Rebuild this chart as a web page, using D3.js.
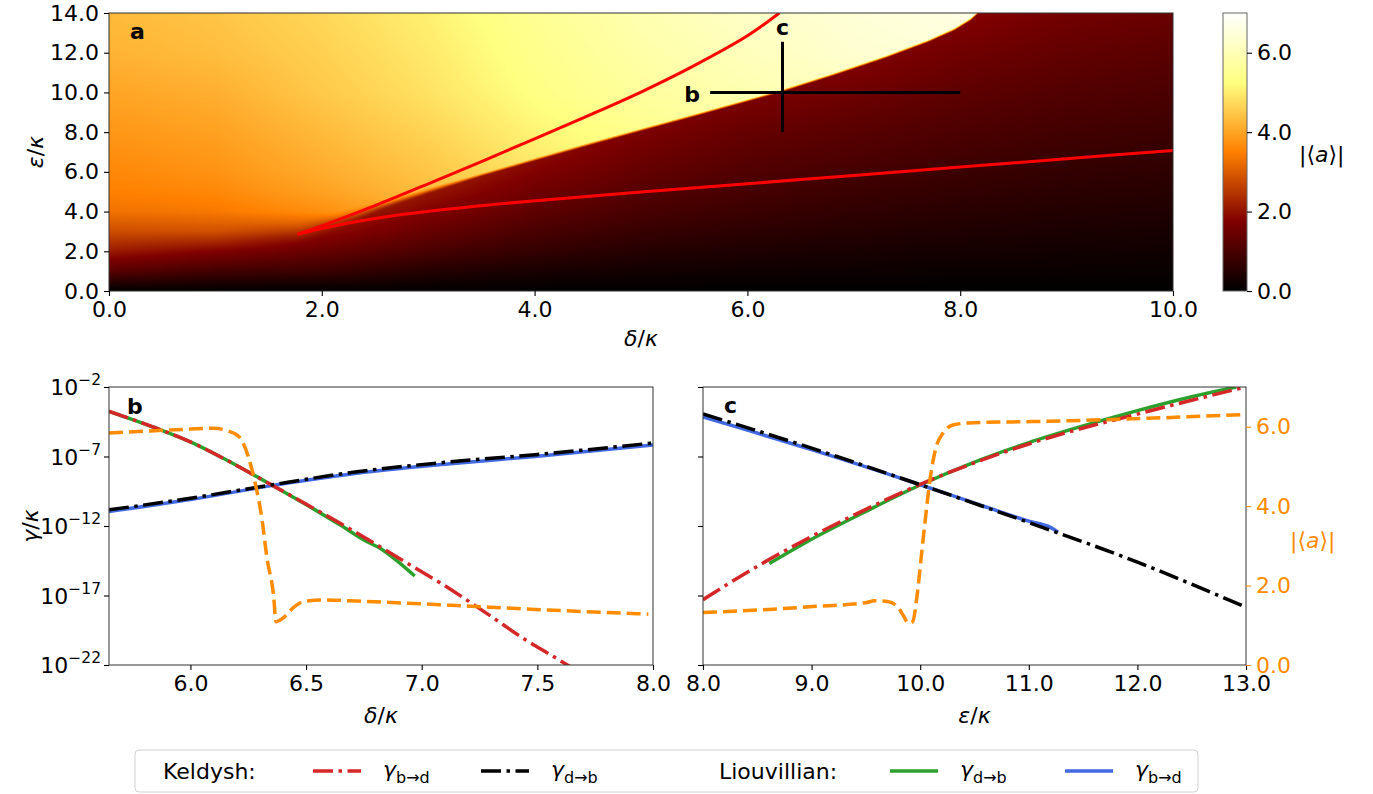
<!DOCTYPE html>
<html><head><meta charset="utf-8">
<script src="https://cdn.jsdelivr.net/npm/d3@7"></script>
<style>
body{margin:0;background:#fff}
svg{display:block}
text{font-family:"DejaVu Sans",sans-serif}
</style>
</head><body>
<svg id="chart" width="1373" height="794"></svg>
<script>
// ---------------- DATA ----------------
// heat map grid (delta columns, epsilon rows); |<a>|
const heatDelta = [0,1,2,3,4,5,6,7,8,9,10];
const heatEps   = [0,1,2,3,4,5,6,7,8,9,10,11,12,13,14];
// bright (upper) branch
const upperBranch = [
 [0,   0,    0,    3.6, 4.1, 4.5, 4.9, 5.1, 5.3, 5.5, 5.7],
 [1.2, 0.9,  0.75, 3.7, 4.2, 4.6, 5.0, 5.2, 5.4, 5.6, 5.8],
 [2.1, 1.75, 1.4,  3.8, 4.3, 4.7, 5.1, 5.3, 5.5, 5.7, 5.9],
 [2.8, 2.85, 2.7,  3.95,4.45,4.85,5.2, 5.4, 5.6, 5.8, 6.0],
 [3.3, 3.4,  3.7,  4.15,4.6, 5.0, 5.35,5.5, 5.7, 5.9, 6.1],
 [3.5, 3.6,  3.95, 4.35,4.8, 5.15,5.5, 5.6, 5.8, 6.0, 6.2],
 [3.6, 3.75, 4.1,  4.45,4.9, 5.25,5.6, 5.7, 5.9, 6.1, 6.3],
 [3.7, 3.85, 4.2,  4.55,5.0, 5.35,5.68,5.8, 6.0, 6.2, 6.4],
 [3.8, 3.95, 4.3,  4.65,5.1, 5.45,5.76,5.9, 6.1, 6.3, 6.5],
 [3.9, 4.05, 4.4,  4.75,5.2, 5.55,5.84,6.0, 6.2, 6.4, 6.6],
 [4.0, 4.15, 4.5,  4.85,5.3, 5.65,5.92,6.15,6.35,6.5, 6.65],
 [4.1, 4.25, 4.55, 4.9, 5.35,5.72,6.0, 6.25,6.45,6.6, 6.75],
 [4.2, 4.35, 4.6,  4.95,5.4, 5.78,6.08,6.35,6.5, 6.65,6.8],
 [4.25,4.4,  4.65, 5.0, 5.45,5.85,6.15,6.4, 6.55,6.7, 6.85],
 [4.3, 4.45, 4.7,  5.05,5.5, 5.9, 6.22,6.45,6.6, 6.75,6.9]
];
// dark (lower) branch
const lowerBranch = [
 [0,   0,    0,    0,    0,    0,    0,    0,    0,    0,    0],
 [1.2, 0.9,  0.8,  0.5,  0.33, 0.25, 0.2,  0.17, 0.14, 0.12, 0.11],
 [2.1, 1.75, 1.4,  1.0,  0.7,  0.5,  0.4,  0.33, 0.28, 0.24, 0.21],
 [2.8, 2.85, 1.95, 1.4,  1.0,  0.75, 0.6,  0.5,  0.42, 0.36, 0.32],
 [3.3, 3.4,  2.3,  1.75, 1.28, 0.98, 0.8,  0.65, 0.55, 0.47, 0.42],
 [3.5, 3.6,  2.6,  2.05, 1.52, 1.17, 0.96, 0.8,  0.68, 0.58, 0.52],
 [3.6, 3.75, 2.85, 2.3,  1.75, 1.36, 1.1,  0.95, 0.8,  0.69, 0.62],
 [3.7, 3.85, 3.0,  2.5,  1.95, 1.53, 1.24, 1.08, 0.92, 0.8,  0.72],
 [3.8, 3.95, 3.15, 2.7,  2.1,  1.7,  1.38, 1.2,  1.04, 0.9,  0.82],
 [3.9, 4.05, 3.3,  2.85, 2.25, 1.85, 1.56, 1.35, 1.16, 1.01, 0.92],
 [4.0, 4.15, 3.45, 3.0,  2.4,  2.0,  1.72, 1.52, 1.28, 1.12, 1.02],
 [4.1, 4.25, 3.6,  3.1,  2.5,  2.1,  1.85, 1.68, 1.4,  1.23, 1.12],
 [4.2, 4.35, 3.7,  3.2,  2.6,  2.2,  1.95, 1.82, 1.53, 1.34, 1.22],
 [4.25,4.4,  3.8,  3.3,  2.7,  2.3,  2.05, 1.95, 1.68, 1.45, 1.33],
 [4.3, 4.45, 3.9,  3.4,  2.8,  2.4,  2.15, 2.05, 1.85, 1.57, 1.44]
];
// switching edge between the two branches
const switchDelta = [1.77, 2.0, 2.5, 3.0, 3.5, 4.0, 4.5, 5.0, 5.5, 6.0, 6.3, 6.8, 7.3, 7.7, 7.95, 8.1, 8.2];
const switchEps   = [2.85, 3.28, 4.2, 5.05, 5.85, 6.62, 7.38, 8.12, 8.85, 9.6, 10.05, 10.9, 11.8, 12.6, 13.2, 13.7, 14.2];
// red bistability bounds
const redUpperDelta = [1.77, 2.0, 2.5, 3.0, 3.5, 4.0, 4.5, 5.0, 5.5, 6.0, 6.3];
const redUpperEps   = [2.85, 3.28, 4.3, 5.4, 6.52, 7.66, 8.82, 10.02, 11.35, 12.85, 14.0];
const redLowerDelta = [1.77, 2.0, 2.33, 2.75, 3.17, 3.6, 4.01, 5.0, 6.0, 7.0, 8.0, 9.0, 10.0];
const redLowerEps   = [2.85, 3.15, 3.5, 3.85, 4.12, 4.35, 4.55, 4.98, 5.4, 5.82, 6.24, 6.66, 7.08];
// cuts
const cutBDelta = [5.65, 8.0], cutBEps = [10, 10];
const cutCDelta = [6.33, 6.33], cutCEps = [8, 12.55];
const topXTicks = [0,2,4,6,8,10];
const topYTicks = [0,2,4,6,8,10,12,14];
const cbarTicks = [0,2,4,6];
const cbarMax = 7;

// panel b (x = delta / kappa), rates given as log10(gamma/kappa)
const bKelBDDelta = [5.648,5.85,6.0,6.15,6.33,6.53,6.72,6.9,7.1,7.3,7.45,7.55,7.65];
const bKelBDLog   = [-3.75,-4.95,-5.95,-7.2,-8.85,-10.7,-12.5,-14.3,-16.3,-18.5,-20.2,-21.2,-22.2];
const bKelDBDelta = [5.648,6.0,6.33,6.72,7.1,7.49,8.0];
const bKelDBLog   = [-10.84,-10.0,-9.1,-8.1,-7.42,-6.87,-6.03];
const bLioDBDelta = [5.648,5.85,6.0,6.15,6.33,6.53,6.65,6.76,6.82,6.9,6.97];
const bLioDBLog   = [-3.75,-4.95,-5.95,-7.2,-8.85,-10.75,-11.95,-13.1,-13.6,-14.6,-15.6];
const bLioBDDelta = [5.648,6.0,6.33,6.72,7.1,7.49,8.0];
const bLioBDLog   = [-10.95,-10.1,-9.15,-8.2,-7.55,-7.0,-6.18];
const bAmpDelta = [5.648,5.85,6.0,6.1,6.16,6.21,6.25,6.28,6.31,6.33,6.36,6.37,6.40,6.45,6.49,6.57,6.72,7.11,7.49,7.98];
const bAmp      = [5.84,5.9,5.94,5.96,5.9,5.75,5.25,4.58,3.65,2.73,1.72,1.09,1.18,1.47,1.6,1.64,1.61,1.51,1.4,1.28];
const bXTicks = [6.0,6.5,7.0,7.5,8.0];
const logTicks = [-22,-17,-12,-7,-2];

// panel c (x = epsilon / kappa)
const cKelBDEps = [8.0,8.5,9.0,9.5,10.0,10.5,11.0,11.5,12.0,12.5,13.0];
const cKelBDLog = [-17.3,-14.9,-12.75,-10.8,-9.0,-7.45,-6.1,-4.95,-3.95,-2.95,-2.0];
const cKelDBEps = [8.0,9.0,10.0,11.0,12.0,13.0];
const cKelDBLog = [-3.94,-6.4,-9.03,-11.75,-14.6,-17.85];
const cLioDBEps = [8.61,9.0,9.5,10.0,10.5,11.0,11.5,12.0,12.5,12.91];
const cLioDBLog = [-14.7,-12.95,-10.95,-9.05,-7.4,-6.0,-4.8,-3.7,-2.7,-2.0];
const cLioBDEps = [8.0,9.0,10.0,10.5,11.0,11.2,11.27];
const cLioBDLog = [-4.16,-6.51,-9.03,-10.35,-11.65,-12.1,-12.45];
const cAmpEps = [8.0,8.61,9.01,9.5,9.58,9.7,9.79,9.85,9.89,9.93,9.97,10.01,10.05,10.09,10.14,10.21,10.31,10.48,11.04,11.86,13.0];
const cAmp    = [1.32,1.4,1.47,1.57,1.62,1.6,1.47,1.22,1.05,1.09,1.72,2.73,3.74,4.66,5.42,5.84,6.05,6.1,6.13,6.19,6.31];
const cXTicks = [8,9,10,11,12,13];
const ampTicks = [0,2,4,6];

// ---------------- STYLE ----------------
const FS = 22;
const C = {red:"#d62728", black:"#000000", green:"#2ca02c", blue:"#4169e1", orange:"#ff8c00"};
const DASHDOT = "20,5.5,3.5,5.5", DASHED = "14,6", LW = 3.5;

const svg = d3.select("#chart");
const zip = (a,b) => a.map((v,i)=>[v,b[i]]);

// afmhot colormap
const cmap = d3.scaleLinear().domain([0,0.25,0.5,0.75,1].map(f=>f*cbarMax))
  .range(["#000000","#800000","#ff8000","#ffff80","#ffffff"]).clamp(true);

// ---------------- PANEL a ----------------
const A = {l:109, r:1173, t:13, b:291};
const xA = d3.scaleLinear([0,10],[A.l,A.r]);
const yA = d3.scaleLinear([0,14],[A.b,A.t]);

function bilin(grid, d, e){
  const i = Math.max(0, Math.min(heatDelta.length-2, d3.bisectRight(heatDelta, d)-1));
  const j = Math.max(0, Math.min(heatEps.length-2, d3.bisectRight(heatEps, e)-1));
  const tx = (d-heatDelta[i])/(heatDelta[i+1]-heatDelta[i]);
  const ty = (e-heatEps[j])/(heatEps[j+1]-heatEps[j]);
  return grid[j][i]*(1-tx)*(1-ty)+grid[j][i+1]*tx*(1-ty)+grid[j+1][i]*(1-tx)*ty+grid[j+1][i+1]*tx*ty;
}
const edge = d3.scaleLinear(switchDelta, switchEps).clamp(true);
const edgeW = d3.scaleLinear([1.77,2.6,3.5],[0.7,0.25,0.1]).clamp(true);
{
  const W = A.r-A.l, H = A.b-A.t;
  const cv = document.createElement("canvas"); cv.width=W; cv.height=H;
  const ctx = cv.getContext("2d"); const img = ctx.createImageData(W,H);
  const N = 1024, lut = [];
  for(let k=0;k<N;k++){ const c=d3.rgb(cmap(k/(N-1)*cbarMax)); lut.push([c.r,c.g,c.b]); }
  for(let py=0;py<H;py++){
    const e = yA.invert(A.t+py+0.5);
    for(let px=0;px<W;px++){
      const d = xA.invert(A.l+px+0.5);
      const up = bilin(upperBranch,d,e), lo = bilin(lowerBranch,d,e);
      let s = (e-edge(d))/edgeW(d)*0.5+0.5; s=Math.max(0,Math.min(1,s)); s=s*s*(3-2*s);
      const v = lo+(up-lo)*s;
      const k = Math.max(0,Math.min(N-1,Math.round(v/cbarMax*(N-1))));
      const o=(py*W+px)*4; const c=lut[k];
      img.data[o]=c[0]; img.data[o+1]=c[1]; img.data[o+2]=c[2]; img.data[o+3]=255;
    }
  }
  ctx.putImageData(img,0,0);
  svg.append("image").attr("x",A.l).attr("y",A.t).attr("width",W).attr("height",H)
    .attr("preserveAspectRatio","none").attr("href",cv.toDataURL());
}
svg.append("defs").append("clipPath").attr("id","clipA").append("rect")
  .attr("x",A.l).attr("y",A.t).attr("width",A.r-A.l).attr("height",A.b-A.t);
const lineA = d3.line().x(d=>xA(d[0])).y(d=>yA(d[1])).curve(d3.curveCatmullRom);
const gA = svg.append("g").attr("clip-path","url(#clipA)");
gA.append("path").attr("d",lineA(zip(redUpperDelta,redUpperEps))).attr("fill","none").attr("stroke","#ff0000").attr("stroke-width",3);
gA.append("path").attr("d",lineA(zip(redLowerDelta,redLowerEps))).attr("fill","none").attr("stroke","#ff0000").attr("stroke-width",3);
const lineL = d3.line().x(d=>xA(d[0])).y(d=>yA(d[1]));
svg.append("path").attr("d",lineL(zip(cutBDelta,cutBEps))).attr("stroke","#000").attr("stroke-width",3);
svg.append("path").attr("d",lineL(zip(cutCDelta,cutCEps))).attr("stroke","#000").attr("stroke-width",3);
svg.append("text").attr("x",xA(cutBDelta[0])-26).attr("y",yA(cutBEps[0])+10).attr("font-size",FS).attr("font-weight","bold").text("b");
svg.append("text").attr("x",xA(cutCDelta[0])).attr("y",yA(cutCEps[1])-7).attr("text-anchor","middle").attr("font-size",FS).attr("font-weight","bold").text("c");
svg.append("rect").attr("x",A.l).attr("y",A.t).attr("width",A.r-A.l).attr("height",A.b-A.t).attr("fill","none").attr("stroke","#333").attr("stroke-width",1);
svg.append("text").attr("x",130).attr("y",39).attr("font-size",FS).attr("font-weight","bold").text("a");

function styleAxis(g, color){
  g.select(".domain").remove();
  g.selectAll(".tick line").attr("stroke", color||"#000").attr("stroke-width",1.1);
  g.selectAll(".tick text").attr("font-size",FS).attr("font-family","DejaVu Sans").attr("fill",color||"#000");
}
const f1 = d3.format(".1f");
styleAxis(svg.append("g").attr("transform",`translate(0,${A.b})`)
  .call(d3.axisBottom(xA).tickValues(topXTicks).tickFormat(f1).tickSize(5).tickPadding(5)));
styleAxis(svg.append("g").attr("transform",`translate(${A.l},0)`)
  .call(d3.axisLeft(yA).tickValues(topYTicks).tickFormat(f1).tickSize(5).tickPadding(5)));

function mathLabel(g, parts){ // parts: [text, italic]
  parts.forEach(p=>g.append("tspan").attr("font-style",p[1]?"italic":"normal").text(p[0]));
}
mathLabel(svg.append("text").attr("x",(A.l+A.r)/2).attr("y",346).attr("text-anchor","middle").attr("font-size",FS),
  [["δ",1],["/",0],["κ",1]]);
mathLabel(svg.append("text").attr("transform",`translate(43,${(A.t+A.b)/2}) rotate(-90)`).attr("text-anchor","middle").attr("font-size",FS),
  [["ε",1],["/",0],["κ",1]]);

// colorbar
const CB = {l:1223, r:1247, t:13, b:291};
const yCB = d3.scaleLinear([0,cbarMax],[CB.b,CB.t]);
const grad = svg.select("defs").append("linearGradient").attr("id","cbgrad").attr("x1",0).attr("x2",0).attr("y1",1).attr("y2",0);
cmap.domain().forEach((v,i)=>grad.append("stop").attr("offset",v/cbarMax).attr("stop-color",cmap.range()[i]));
svg.append("rect").attr("x",CB.l).attr("y",CB.t).attr("width",CB.r-CB.l).attr("height",CB.b-CB.t).attr("fill","url(#cbgrad)").attr("stroke","#666").attr("stroke-width",1);
styleAxis(svg.append("g").attr("transform",`translate(${CB.r},0)`)
  .call(d3.axisRight(yCB).tickValues(cbarTicks).tickFormat(f1).tickSize(5).tickPadding(5)));
mathLabel(svg.append("text").attr("x",1299).attr("y",162).attr("font-size",FS),[["|⟨",0],["a",1],["⟩|",0]]);

// ---------------- PANELS b, c ----------------
const B = {l:109, r:653, t:387, b:665};
const Cp = {l:703, r:1246, t:387, b:665};
const yLogB = d3.scaleLog([1e-22,1e-2],[B.b,B.t]);
const yLogC = d3.scaleLog([1e-22,1e-2],[Cp.b,Cp.t]);
const yAmpB = d3.scaleLinear([0,7],[B.b,B.t]);
const yAmpC = d3.scaleLinear([0,7],[Cp.b,Cp.t]);
const xB = d3.scaleLinear([5.648,8.0],[B.l,B.r]);
const xC = d3.scaleLinear([8,13],[Cp.l,Cp.r]);

function panel(P, id){
  svg.select("defs").append("clipPath").attr("id",id).append("rect")
    .attr("x",P.l).attr("y",P.t).attr("width",P.r-P.l).attr("height",P.b-P.t);
  return svg.append("g").attr("clip-path",`url(#${id})`);
}
function drawRate(g, x, y, xs, logs, color, dash){
  const ln = d3.line().x(d=>x(d[0])).y(d=>y(Math.pow(10,d[1]))).curve(d3.curveMonotoneX);
  g.append("path").attr("d",ln(zip(xs,logs))).attr("fill","none").attr("stroke",color)
    .attr("stroke-width",LW).attr("stroke-dasharray",dash||null);
}
function drawAmp(g, x, y, xs, vs){
  const ln = d3.line().x(d=>x(d[0])).y(d=>y(d[1])).curve(d3.curveMonotoneX);
  g.append("path").attr("d",ln(zip(xs,vs))).attr("fill","none").attr("stroke",C.orange)
    .attr("stroke-width",LW).attr("stroke-dasharray",DASHED);
}
const gB = panel(B,"clipB");
drawRate(gB,xB,yLogB,bLioDBDelta,bLioDBLog,C.green);
drawRate(gB,xB,yLogB,bLioBDDelta,bLioBDLog,C.blue);
drawRate(gB,xB,yLogB,bKelBDDelta,bKelBDLog,C.red,DASHDOT);
drawRate(gB,xB,yLogB,bKelDBDelta,bKelDBLog,C.black,DASHDOT);
drawAmp(gB,xB,yAmpB,bAmpDelta,bAmp);

const gC = panel(Cp,"clipC");
drawRate(gC,xC,yLogC,cLioDBEps,cLioDBLog,C.green);
drawRate(gC,xC,yLogC,cLioBDEps,cLioBDLog,C.blue);
drawRate(gC,xC,yLogC,cKelBDEps,cKelBDLog,C.red,DASHDOT);
drawRate(gC,xC,yLogC,cKelDBEps,cKelDBLog,C.black,DASHDOT);
drawAmp(gC,xC,yAmpC,cAmpEps,cAmp);

[B,Cp].forEach(P=>svg.append("rect").attr("x",P.l).attr("y",P.t).attr("width",P.r-P.l).attr("height",P.b-P.t)
  .attr("fill","none").attr("stroke","#333").attr("stroke-width",1));

styleAxis(svg.append("g").attr("transform",`translate(0,${B.b})`)
  .call(d3.axisBottom(xB).tickValues(bXTicks).tickFormat(f1).tickSize(5).tickPadding(5)));
styleAxis(svg.append("g").attr("transform",`translate(0,${Cp.b})`)
  .call(d3.axisBottom(xC).tickValues(cXTicks).tickFormat(f1).tickSize(5).tickPadding(5)));
// log y axis of b
const gyB = svg.append("g").attr("transform",`translate(${B.l},0)`)
  .call(d3.axisLeft(yLogB).tickValues(logTicks.map(e=>Math.pow(10,e))).tickFormat("").tickSize(5));
styleAxis(gyB);
logTicks.forEach(e=>{
  const t = svg.append("text").attr("x",B.l-8).attr("y",yLogB(Math.pow(10,e))+8).attr("text-anchor","end").attr("font-size",FS);
  t.append("tspan").text("10");
  t.append("tspan").attr("dy",-10).attr("font-size",15.5).text("−"+Math.abs(e));
});
// c shared log axis (no labels)
styleAxis(svg.append("g").attr("transform",`translate(${Cp.l},0)`)
  .call(d3.axisLeft(yLogC).tickValues(logTicks.map(e=>Math.pow(10,e))).tickFormat("").tickSize(5)));
// c right amplitude axis
styleAxis(svg.append("g").attr("transform",`translate(${Cp.r},0)`)
  .call(d3.axisRight(yAmpC).tickValues(ampTicks).tickFormat(f1).tickSize(5).tickPadding(5)), C.orange);
mathLabel(svg.append("text").attr("x",1290).attr("y",548).attr("font-size",FS).attr("fill",C.orange),[["|⟨",0],["a",1],["⟩|",0]]);

svg.append("text").attr("x",127).attr("y",414).attr("font-size",FS).attr("font-weight","bold").text("b");
svg.append("text").attr("x",724).attr("y",413).attr("font-size",FS).attr("font-weight","bold").text("c");

mathLabel(svg.append("text").attr("x",(B.l+B.r)/2).attr("y",723).attr("text-anchor","middle").attr("font-size",FS),[["δ",1],["/",0],["κ",1]]);
mathLabel(svg.append("text").attr("x",(Cp.l+Cp.r)/2).attr("y",723).attr("text-anchor","middle").attr("font-size",FS),[["ε",1],["/",0],["κ",1]]);
mathLabel(svg.append("text").attr("transform",`translate(38,${(B.t+B.b)/2}) rotate(-90)`).attr("text-anchor","middle").attr("font-size",FS),[["γ",1],["/",0],["κ",1]]);

// ---------------- LEGEND ----------------
const legendGroups = ["Keldysh:","Liouvillian:"];
const legendItems = [
  {label:"b→d", color:C.red, dash:DASHDOT, x:313},
  {label:"d→b", color:C.black, dash:DASHDOT, x:481},
  {label:"d→b", color:C.green, dash:null, x:890},
  {label:"b→d", color:C.blue, dash:null, x:1065}
];
const groupX = [163,719];
const LY = 771;
svg.append("rect").attr("x",135).attr("y",750).attr("width",1063).attr("height",42).attr("rx",4)
  .attr("fill","#fff").attr("stroke","#d0d0d0").attr("stroke-width",1);
legendGroups.forEach((t,i)=>svg.append("text").attr("x",groupX[i]).attr("y",LY+8).attr("font-size",FS).text(t));
legendItems.forEach(it=>{
  svg.append("line").attr("x1",it.x).attr("x2",it.x+48).attr("y1",LY).attr("y2",LY)
    .attr("stroke",it.color).attr("stroke-width",LW).attr("stroke-dasharray",it.dash);
  const t = svg.append("text").attr("x",it.x+70).attr("y",LY+6).attr("font-size",FS);
  t.append("tspan").attr("font-style","italic").text("γ");
  t.append("tspan").attr("dy",6).attr("font-size",16).text(it.label);
});
</script>
</body></html>
